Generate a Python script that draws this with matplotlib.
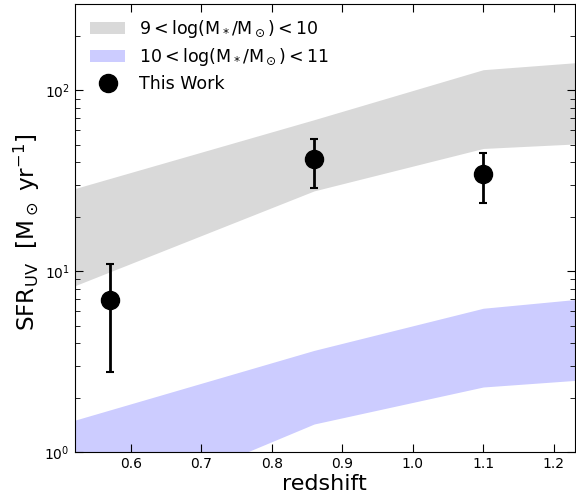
import numpy as np
import matplotlib
matplotlib.use('Agg')
import matplotlib.pyplot as plt

plt.rcParams['mathtext.default'] = 'regular'

# band edges (redshift, SFR)
z_band = [0.52, 0.86, 1.10, 1.23]
lo_mid = [8.3, 27.8, 47.7, 50.5]    # 9 < logM < 10
hi_mid = [28.6, 68.8, 130.0, 142.0]
lo_hig = [0.40, 1.43, 2.29, 2.49]   # 10 < logM < 11
hi_hig = [1.50, 3.65, 6.24, 6.97]

# this work
z_pts = [0.57, 0.86, 1.10]
sfr_pts = [6.9, 41.5, 34.6]
sfr_up = [11.0, 53.7, 44.8]
sfr_dn = [2.76, 28.8, 23.9]

GRY = (0.85, 0.85, 0.85)
BLU = (0.8, 0.8, 1.0)

fig = plt.figure(figsize=(5.76, 4.99), dpi=100)
ax = fig.add_axes([0.1295, 0.094, 0.8685, 0.898])

ax.fill_between(z_band, lo_mid, hi_mid, color=GRY, lw=0,
                label=r'$9 < \log(M_*/M_\odot) < 10$')
ax.fill_between(z_band, lo_hig, hi_hig, color=BLU, lw=0,
                label=r'$10 < \log(M_*/M_\odot) < 11$')

yerr = [np.array(sfr_pts) - np.array(sfr_dn), np.array(sfr_up) - np.array(sfr_pts)]
eb = ax.errorbar(z_pts, sfr_pts, yerr=yerr, fmt='o', color='k', ms=13,
                 elinewidth=2, capsize=3, capthick=1.5, label='This Work')

ax.set_yscale('log')
ax.set_xlim(0.52, 1.23)
ax.set_ylim(1, 300)
ax.set_xticks([0.6, 0.7, 0.8, 0.9, 1.0, 1.1, 1.2])
ax.set_xticklabels(['0.6', '0.7', '0.8', '0.9', '1.0', '1.1', '1.2'])

ax.tick_params(which='both', direction='in', top=True, right=True, labelsize=10)
ax.tick_params(which='major', length=6)
ax.tick_params(which='minor', length=3.5)

ax.set_xlabel('redshift', fontsize=16, labelpad=2)
ax.set_ylabel(r'$SFR_{UV}\ \ [M_\odot\ yr^{-1}]$', fontsize=16.7, labelpad=2, y=0.49)

# legend shows the marker only, no error bar
h, l = ax.get_legend_handles_labels()
h = [eb[0] if hh is eb else hh for hh in h]
ax.legend(h, l, loc='upper left', bbox_to_anchor=(0.004, 1.0), frameon=False,
          fontsize=12.5, numpoints=1, handlelength=2.0, borderaxespad=0.4,
          labelspacing=0.37)

plt.savefig('out.png', dpi=100)
